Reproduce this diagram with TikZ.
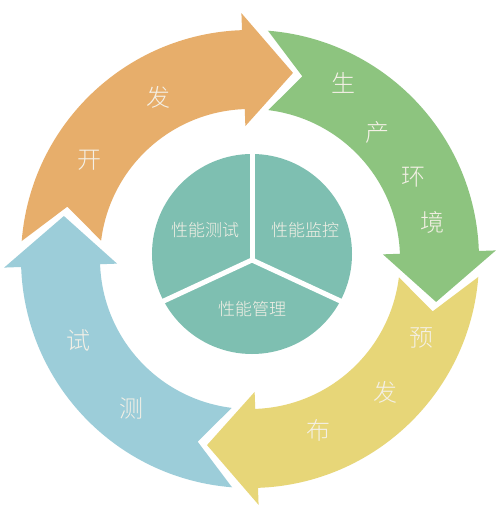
\documentclass[tikz,border=0pt]{standalone}
\usepackage{fontspec}
\newfontfamily\cjk{Noto Sans CJK SC Light}
\definecolor{corange}{HTML}{E7AE6B}
\definecolor{cgreen}{HTML}{8DC47F}
\definecolor{cyellow}{HTML}{E7D678}
\definecolor{cblue}{HTML}{9CCDD9}
\definecolor{cteal}{HTML}{7EBFB1}
\definecolor{ctext}{HTML}{F4F0E6}
\begin{document}
\begin{tikzpicture}[x=1pt,y=1pt,
  ringtxt/.style={text=ctext, font=\cjk\fontsize{24}{24}\selectfont, inner sep=0pt},
  pietxt/.style={text=ctext, font=\cjk\fontsize{17}{17}\selectfont, inner sep=0pt},
  divider/.style={draw=white, line width=5pt}]
\fill[white] (-250,-254) rectangle (250,259);
\useasboundingbox (-250,-254) rectangle (250,259);
% ring arrows
\foreach \a/\c in {0/corange,-90/cgreen,-180/cyellow,-270/cblue}{
  \begin{scope}[rotate=\a]
    \fill[\c] (175.5:229) arc[start angle=175.5, end angle=92, radius=229]
      -- (92:246) -- (77:191) -- (92:133) -- (92:150)
      arc[start angle=92, end angle=173, radius=150]
      -- (164:190) -- cycle;
  \end{scope}
}
% central pie
\fill[cteal] (2,5) circle[radius=100];
\coordinate (j) at (2,-1);
\coordinate (d1) at (2,115);
\coordinate (d2) at (-110,-53);
\coordinate (d3) at (112,-52);
\draw[divider] (j) -- (d1);
\draw[divider] (j) -- (d2);
\draw[divider] (j) -- (d3);
% ring labels
\node[ringtxt] (k1) at (-160,99) {开};
\node[ringtxt] (k2) at (-91,162) {发};
\node[ringtxt] (s1) at (93,176) {生};
\node[ringtxt] (s2) at (127,127) {产};
\node[ringtxt] (s3) at (163,82) {环};
\node[ringtxt] (s4) at (182,37) {境};
\node[ringtxt] (y1) at (171,-79) {预};
\node[ringtxt] (y2) at (135,-133) {发};
\node[ringtxt] (y3) at (68,-171) {布};
\node[ringtxt] (c1) at (-171,-81) {试};
\node[ringtxt] (c2) at (-118,-149) {测};
% pie labels
\node[pietxt] (p1) at (-45,29) {性能测试};
\node[pietxt] (p2) at (55,29) {性能监控};
\node[pietxt] (p3) at (2,-50) {性能管理};
\end{tikzpicture}
\end{document}
